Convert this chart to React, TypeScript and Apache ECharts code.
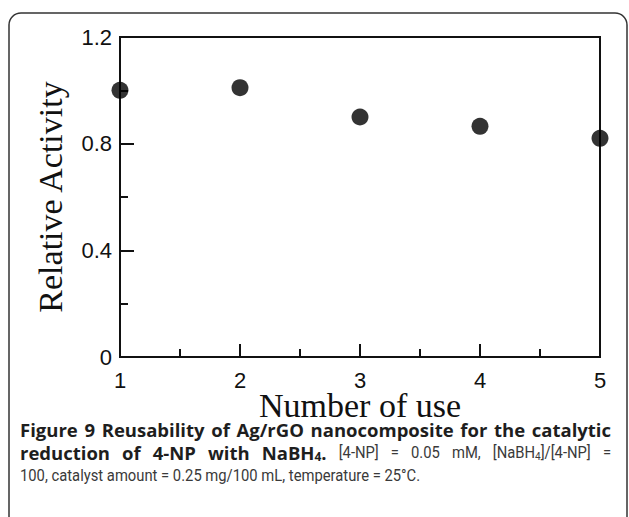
import React, { useEffect, useRef } from "react";
import * as echarts from "echarts";

const uses = [1, 2, 3, 4, 5];
const activity = [1.0, 1.01, 0.9, 0.865, 0.82];
const xTickLabels = ["1", "2", "3", "4", "5"];
const yTickLabels = ["0", "0.4", "0.8", "1.2"];
const xTitle = "Number of use";
const yTitle = "Relative Activity";

type Kind = "b" | "bs" | "n" | "ns";
type Run = { text: string; kind: Kind };
const captionLine1: Run[][] = "Figure 9 Reusability of Ag/rGO nanocomposite for the catalytic"
  .split(" ")
  .map((w) => [{ text: w, kind: "b" as Kind }]);
const captionLine2: Run[][] = [
  ...["reduction", "of", "4-NP", "with"].map((w) => [{ text: w, kind: "b" as Kind }]),
  [
    { text: "NaBH", kind: "b" },
    { text: "4", kind: "bs" },
    { text: ".", kind: "b" },
  ],
  ...["[4-NP]", "=", "0.05", "mM,"].map((w) => [{ text: w, kind: "n" as Kind }]),
  [
    { text: "[NaBH", kind: "n" },
    { text: "4", kind: "ns" },
    { text: "]/[4-NP]", kind: "n" },
  ],
  [{ text: "=", kind: "n" }],
];
const captionLine3 = "100, catalyst amount = 0.25 mg/100 mL, temperature = 25°C.";

const BOLD_FONT = "Open Sans";
const REG_FONT = "Roboto";
const fontSpec: Record<
  Kind,
  { family: string; size: number; weight: string; color: string; pad: number; scale: number }
> = {
  b: { family: BOLD_FONT, size: 18.5, weight: "bold", color: "#1e1e1e", pad: 0, scale: 1 },
  bs: { family: BOLD_FONT, size: 12, weight: "bold", color: "#1e1e1e", pad: 8, scale: 1 },
  n: { family: REG_FONT, size: 17, weight: "normal", color: "#3a3a3a", pad: 0, scale: 0.87 },
  ns: { family: REG_FONT, size: 11.5, weight: "normal", color: "#3a3a3a", pad: 8, scale: 0.87 },
};

const richStyles: Record<string, any> = {};
(Object.keys(fontSpec) as Kind[]).forEach((k) => {
  const f = fontSpec[k];
  richStyles[k] = {
    fontFamily: f.family,
    fontSize: f.size,
    fontWeight: f.weight,
    fill: f.color,
    lineHeight: 16,
    padding: [f.pad, 0, 0, 0],
  };
});

function justifiedLine(words: Run[][], left: number, right: number, y: number) {
  const ctx = document.createElement("canvas").getContext("2d")!;
  const widths = words.map((w) =>
    w.reduce((acc, r) => {
      const f = fontSpec[r.kind];
      ctx.font = `${f.weight} ${f.size}px ${f.family}`;
      return acc + ctx.measureText(r.text).width * f.scale;
    }, 0)
  );
  const total = widths.reduce((a, b) => a + b, 0);
  const gap = (right - left - total) / (words.length - 1);
  const els: any[] = [];
  let x = left;
  words.forEach((w, i) => {
    els.push({
      type: "text",
      silent: true,
      x,
      y,
      scaleX: fontSpec[w[0].kind].scale,
      style: {
        x: 0,
        y: 0,
        verticalAlign: "middle",
        text: w.map((r) => `{${r.kind}|${r.text}}`).join(""),
        rich: richStyles,
      },
    });
    x += widths[i] + gap;
  });
  return els;
}

export default function App() {
  const ref = useRef<HTMLDivElement>(null);
  useEffect(() => {
    if (!ref.current) return;
    const chart = echarts.init(ref.current, undefined, { renderer: "svg" });
    const data = uses.map((u, i) => [u, activity[i]]);
    const axisFont = { fontFamily: "Liberation Sans", fontSize: 22, color: "#111" };
    chart.setOption({
      animation: false,
      backgroundColor: "#ffffff",
      grid: {
        left: 120,
        right: 29,
        top: 37,
        bottom: 160,
        show: true,
        borderColor: "#111",
        borderWidth: 2,
        backgroundColor: "transparent",
      },
      xAxis: {
        type: "value",
        min: 1,
        max: 5,
        interval: 1,
        name: xTitle,
        nameLocation: "middle",
        nameGap: 34,
        nameMoveOverlap: false,
        nameTextStyle: { fontFamily: "Liberation Serif", fontSize: 34, lineHeight: 28, color: "#111" },
        axisLine: { show: true, lineStyle: { color: "#111", width: 2 } },
        axisTick: { show: true, inside: true, length: 13, lineStyle: { color: "#111", width: 2 } },
        minorTick: { show: true, splitNumber: 2, length: 8, lineStyle: { color: "#111", width: 2 } },
        axisLabel: {
          ...axisFont,
          lineHeight: 18,
          margin: 14,
          formatter: (v: number) => xTickLabels[uses.indexOf(v)] ?? "",
        },
        splitLine: { show: false },
      },
      yAxis: {
        type: "value",
        min: 0,
        max: 1.2,
        interval: 0.4,
        name: yTitle,
        nameLocation: "middle",
        nameGap: 53,
        nameMoveOverlap: false,
        nameTextStyle: { fontFamily: "Liberation Serif", fontSize: 34, color: "#111" },
        axisLine: { show: true, lineStyle: { color: "#111", width: 2 } },
        axisTick: { show: true, inside: true, length: 14, lineStyle: { color: "#111", width: 2 } },
        minorTick: { show: true, splitNumber: 2, length: 8, lineStyle: { color: "#111", width: 2 } },
        axisLabel: {
          ...axisFont,
          margin: 8,
          formatter: (v: number) => yTickLabels[Math.round(v / 0.4)] ?? "",
        },
        splitLine: { show: false },
      },
      series: [
        {
          type: "scatter",
          data,
          symbol: "circle",
          symbolSize: 17,
          clip: false,
          itemStyle: { color: "#000" },
        },
      ],
      graphic: [
        {
          type: "rect",
          silent: true,
          shape: { x: 9, y: 13, width: 618, height: 530, r: 12 },
          style: { fill: "none", stroke: "#333", lineWidth: 1.5 },
        },
        ...justifiedLine(captionLine1, 20, 611, 429),
        ...justifiedLine(captionLine2, 20, 611, 452),
        {
          type: "text",
          silent: true,
          x: 20,
          y: 475,
          scaleX: fontSpec.n.scale,
          style: {
            x: 0,
            y: 0,
            verticalAlign: "middle",
            text: captionLine3,
            fontFamily: fontSpec.n.family,
            fontSize: fontSpec.n.size,
            lineHeight: 16,
            fill: fontSpec.n.color,
          },
        },
      ],
    });
    return () => chart.dispose();
  }, []);
  return (
    <div
      ref={ref}
      style={{ position: "fixed", left: 0, top: 0, width: 629, height: 517, background: "#fff" }}
    />
  );
}
